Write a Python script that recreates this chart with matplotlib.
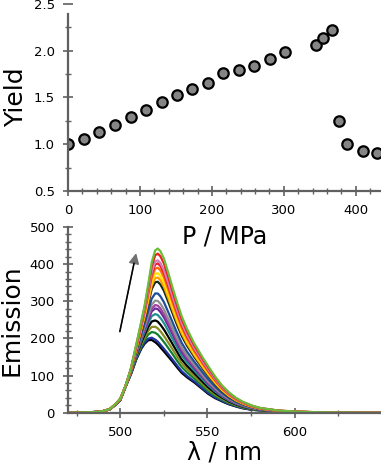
import numpy as np
import matplotlib.pyplot as plt
from matplotlib.ticker import MultipleLocator

# top panel: yield vs pressure
pressure = [0, 22, 43, 65, 87, 108, 130, 151, 173, 195, 216, 238, 259, 281,
            302, 345, 355, 367, 377, 388, 410, 430]
yield_vals = [1.00, 1.06, 1.13, 1.21, 1.29, 1.37, 1.45, 1.53, 1.59, 1.65, 1.76,
              1.79, 1.84, 1.91, 1.99, 2.06, 2.14, 2.22, 1.25, 1.00, 0.93, 0.91]

# bottom panel: emission spectra (lowest and highest)
wl = [470, 485, 490, 494, 497, 500, 503, 506, 509, 512, 514, 516, 518, 520,
      521.5, 523, 525, 527, 529, 532, 535, 538, 542, 546, 550, 554, 558, 562,
      566, 570, 575, 580, 590, 600, 610, 620, 650]
spec_low = [0, 1.5, 4, 9, 20, 34, 70, 102, 142, 172, 186, 195, 196, 190,
            184, 176, 165, 154, 143, 125, 108, 96, 83, 68, 52, 40, 31, 23,
            17, 12, 8, 6, 3, 1.5, 0.8, 0.5, 0]
spec_high = [0, 1.5, 4, 10, 22, 38, 72, 118, 180, 245, 290, 345, 405, 437,
             442, 435, 415, 385, 352, 305, 262, 228, 190, 158, 128, 100, 75,
             56, 41, 30, 20, 13, 6, 3, 1.5, 0.8, 0]
peaks = [197, 204, 222, 238, 255, 272, 287, 296, 308, 327, 357, 368, 379,
         393, 404, 412, 429, 442]
colors = ['black', '#2030a0', '#108030', '#8a8a20', 'black', '#209090',
          '#6a2a9a', '#a040a0', '#909090', '#1f4e9a', '#102a20', '#ff9a00',
          '#ffe600', '#ff6a00', '#e81e2e', '#d080c0', '#ee2020', '#6abf3a']

axis_col = '#606060'


def style_axis(ax):
    for s in ['top', 'right']:
        ax.spines[s].set_visible(False)
    for s in ['left', 'bottom']:
        ax.spines[s].set_color(axis_col)
        ax.spines[s].set_linewidth(1.6)
    ax.tick_params(which='major', direction='inout', length=7, width=1.2,
                   color=axis_col, labelsize=9.5, pad=6)
    ax.tick_params(which='minor', direction='inout', length=4, width=1.0,
                   color=axis_col)


fig = plt.figure(figsize=(3.81, 4.65), dpi=100)

ax1 = fig.add_axes([68/381, 1 - 191/465, 313/381, 187/465])
ax1.plot(pressure, yield_vals, 'o', ms=7.5, mfc='#858585', mec='black',
         mew=1.6)
ax1.set_xlim(0, 435)
ax1.set_ylim(0.5, 2.5)
ax1.xaxis.set_major_locator(MultipleLocator(100))
ax1.xaxis.set_minor_locator(MultipleLocator(20))
ax1.yaxis.set_major_locator(MultipleLocator(0.5))
ax1.yaxis.set_minor_locator(MultipleLocator(0.25))
ax1.yaxis.set_major_formatter(plt.FormatStrFormatter('%.1f'))
style_axis(ax1)
ax1.spines['left'].set_bounds(0.5, 2.39)
ax1.set_ylabel('Yield', fontsize=18, labelpad=4)
ax1.set_xlabel('P / MPa', fontsize=17, labelpad=5)
ax1.xaxis.label.set_zorder(10)

ax2 = fig.add_axes([68/381, 1 - 412.7/465, 313/381, 185.7/465])
ax2.patch.set_alpha(0)
x = np.linspace(470, 650, 721)
lo = np.interp(x, wl, spec_low)
hi = np.interp(x, wl, spec_high)
for pk, c in zip(peaks, colors):
    w = (pk - peaks[0]) / (peaks[-1] - peaks[0])
    ax2.plot(x, (1 - w) * lo + w * hi, color=c, lw=1.6)
# arrow: black shaft, grey head
ax2.annotate('', xy=(509.4, 437), xytext=(499.4, 211),
             arrowprops=dict(arrowstyle='-|>', color='#707070', lw=1.0,
                             mutation_scale=16))
ax2.annotate('', xy=(508.2, 410), xytext=(499.4, 211),
             arrowprops=dict(arrowstyle='-', color='black', lw=1.1))
ax2.set_xlim(470, 649.5)
ax2.set_ylim(0, 500)
ax2.xaxis.set_major_locator(MultipleLocator(50))
ax2.xaxis.set_minor_locator(MultipleLocator(25))
ax2.yaxis.set_major_locator(MultipleLocator(100))
ax2.yaxis.set_minor_locator(MultipleLocator(20))
style_axis(ax2)
ax2.set_ylabel('Emission', fontsize=18, labelpad=4)
ax2.set_xlabel('λ / nm', fontsize=17, labelpad=1)

fig.savefig('out.png', dpi=100)
